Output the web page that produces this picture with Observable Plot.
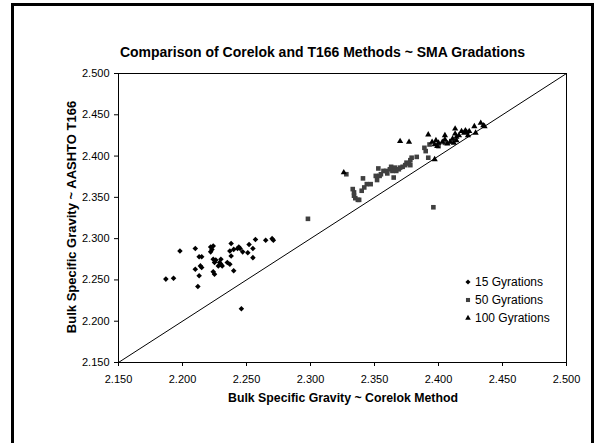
<!DOCTYPE html>
<html>
<head>
<meta charset="utf-8">
<script src="https://cdn.jsdelivr.net/npm/d3@7"></script>
<script src="https://cdn.jsdelivr.net/npm/@observablehq/plot@0.6"></script>
<style>
  html, body { margin: 0; padding: 0; background: #fff; }
  #wrap { position: relative; width: 606px; height: 443px; overflow: hidden; font-family: "Liberation Sans", Arial, sans-serif; color: #000; }
  #border { position: absolute; left: 11px; top: 3px; width: 577px; height: 470px; border: 3px solid #000; box-sizing: content-box; }
  .abs { position: absolute; white-space: nowrap; line-height: 1; }
  #title { left: 0; width: 645px; top: 45px; text-align: center; font-weight: bold; font-size: 14px; }
  #xtitle { left: 0; width: 686px; top: 392px; text-align: center; font-weight: bold; font-size: 12.3px; }
  #ytitle { left: 70.5px; top: 216.5px; transform: translate(-50%, -50%) rotate(-90deg); font-weight: bold; font-size: 13px; }
  .leg { left: 475px; font-size: 12px; }
  #chart { position: absolute; left: 0; top: 0; }
</style>
</head>
<body>
<div id="wrap">
  <div id="chart"></div>
  <div id="border"></div>
  <div id="title" class="abs">Comparison of Corelok and T166 Methods ~ SMA Gradations</div>
  <div id="ytitle" class="abs">Bulk Specific Gravity ~ AASHTO T166</div>
  <div id="xtitle" class="abs">Bulk Specific Gravity ~ Corelok Method</div>
  <div id="legend"></div>
</div>
<script>
// ---- data ----
const seriesNames = ["15 Gyrations", "50 Gyrations", "100 Gyrations"];

const gyr15_corelok = [2.187,2.193,2.198,2.210,2.210,2.212,2.213,2.213,2.215,2.214,2.215,2.222,2.222,2.223,2.224,2.224,2.225,2.224,2.225,2.226,2.228,2.229,2.230,2.230,2.231,2.235,2.237,2.237,2.238,2.238,2.240,2.240,2.243,2.244,2.245,2.247,2.246,2.251,2.252,2.255,2.255,2.257,2.265,2.270,2.271];
const gyr15_t166    = [2.251,2.252,2.285,2.288,2.263,2.242,2.255,2.278,2.278,2.267,2.265,2.284,2.290,2.287,2.291,2.275,2.271,2.260,2.257,2.274,2.267,2.271,2.275,2.269,2.267,2.271,2.285,2.269,2.279,2.294,2.261,2.287,2.288,2.290,2.288,2.284,2.215,2.283,2.293,2.288,2.277,2.299,2.298,2.300,2.298];

const gyr50_corelok = [2.298,2.396,2.328,2.333,2.334,2.334,2.335,2.337,2.338,2.341,2.340,2.342,2.344,2.347,2.351,2.352,2.353,2.354,2.355,2.357,2.359,2.360,2.362,2.363,2.364,2.365,2.366,2.367,2.369,2.370,2.372,2.374,2.375,2.377,2.378,2.378,2.379,2.383,2.389,2.390,2.392,2.393,2.400,2.405,2.410];
const gyr50_t166    = [2.324,2.338,2.378,2.360,2.356,2.352,2.349,2.347,2.347,2.373,2.358,2.362,2.366,2.366,2.376,2.371,2.385,2.376,2.378,2.382,2.382,2.379,2.384,2.387,2.382,2.374,2.386,2.382,2.384,2.386,2.387,2.389,2.392,2.391,2.395,2.389,2.398,2.399,2.410,2.406,2.398,2.414,2.412,2.416,2.418];

const gyr100_corelok = [2.326,2.370,2.377,2.392,2.397,2.395,2.398,2.397,2.399,2.400,2.403,2.405,2.405,2.407,2.409,2.411,2.412,2.413,2.413,2.414,2.414,2.416,2.418,2.420,2.421,2.422,2.423,2.424,2.428,2.429,2.433,2.435,2.436];
const gyr100_t166    = [2.380,2.418,2.417,2.426,2.396,2.417,2.419,2.414,2.412,2.416,2.417,2.425,2.420,2.415,2.417,2.421,2.416,2.427,2.433,2.423,2.419,2.425,2.430,2.428,2.431,2.429,2.425,2.430,2.436,2.428,2.440,2.437,2.436];

const axisTicks = [2.150, 2.200, 2.250, 2.300, 2.350, 2.400, 2.450, 2.500];
const equalityLine = [2.150, 2.500];

// ---- build tables ----
const toRows = (xs, ys) => xs.map((x, i) => ({x, y: ys[i]}));
const d15 = toRows(gyr15_corelok, gyr15_t166);
const d50 = toRows(gyr50_corelok, gyr50_t166);
const d100 = toRows(gyr100_corelok, gyr100_t166);

const fmt = d3.format(".3f");

const chart = Plot.plot({
  width: 606,
  height: 443,
  marginLeft: 118,
  marginRight: 40,
  marginTop: 73,
  marginBottom: 81,
  style: {fontFamily: "'Liberation Sans', Arial, sans-serif", fontSize: "11px", color: "#000", background: "transparent", overflow: "visible"},
  x: {domain: [2.15, 2.5], ticks: axisTicks, tickFormat: fmt, tickSize: 4, tickPadding: 9, label: null},
  y: {domain: [2.15, 2.5], ticks: axisTicks, tickFormat: fmt, tickSize: 4, tickPadding: 5, label: null},
  marks: [
    Plot.frame({stroke: "#000", strokeWidth: 1}),
    Plot.line(equalityLine, {x: d => d, y: d => d, stroke: "#000", strokeWidth: 1}),
    Plot.dot(d15, {x: "x", y: "y", symbol: "diamond2", r: 2.5, fill: "#000", stroke: "none"}),
    Plot.dot(d50, {x: "x", y: "y", symbol: "square", r: 2.6, fill: "#404040", stroke: "none"}),
    Plot.dot(d100, {x: "x", y: "y", symbol: "triangle", r: 2.3, fill: "#000", stroke: "none"})
  ]
});
document.getElementById("chart").appendChild(chart);

// ---- legend ----
const legendSymbols = [d3.symbolDiamond2, d3.symbolSquare, d3.symbolTriangle];
const legendFills = ["#000", "#404040", "#000"];
const legendRadii = [2.3, 2.3, 2.1];
const legendTop = 276;
const legendStep = 18;
const leg = document.getElementById("legend");
seriesNames.forEach((name, i) => {
  const cy = legendTop + 6 + i * legendStep;
  const svg = d3.create("svg").attr("width", 12).attr("height", 12)
    .style("position", "absolute").style("left", (468 - 6) + "px").style("top", (cy - 6) + "px");
  svg.append("path")
    .attr("transform", "translate(6,6)")
    .attr("d", d3.symbol(legendSymbols[i], Math.PI * legendRadii[i] * legendRadii[i])())
    .attr("fill", legendFills[i]);
  leg.appendChild(svg.node());
  const t = document.createElement("div");
  t.className = "abs leg";
  t.style.top = (cy - 6) + "px";
  t.textContent = name;
  leg.appendChild(t);
});
</script>
</body>
</html>
